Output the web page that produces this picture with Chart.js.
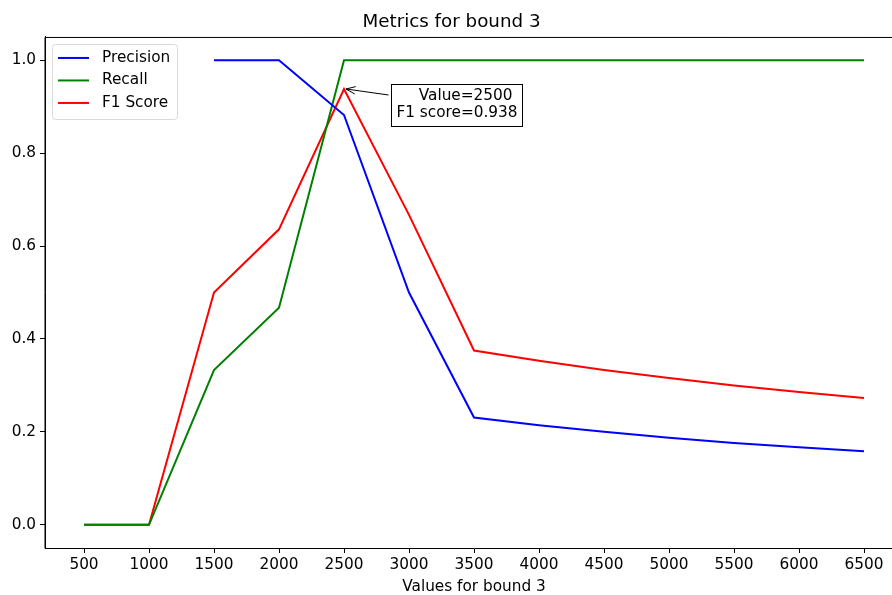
<!DOCTYPE html>
<html>
<head>
<meta charset="utf-8">
<script src="https://cdn.jsdelivr.net/npm/chart.js@4/dist/chart.umd.min.js"></script>
<style>
    body { margin: 0; background: #fff; overflow: hidden; }
    #wrap { width: 930px; height: 595px; }
</style>
</head>
<body>
<div id="wrap"><canvas id="metrics" width="930" height="595"></canvas></div>
<script>
    // values for bound 3
    var boundValues = [500, 1000, 1500, 2000, 2500, 3000, 3500, 4000, 4500, 5000, 5500, 6000, 6500];
    var precisionValues = [null, null, 1.0, 1.0, 0.882, 0.5, 0.231, 0.214, 0.2, 0.1875, 0.176, 0.167, 0.158];
    var recallValues = [0, 0, 0.333, 0.467, 1.0, 1.0, 1.0, 1.0, 1.0, 1.0, 1.0, 1.0, 1.0];
    var f1Values = [0, 0, 0.5, 0.636, 0.938, 0.667, 0.375, 0.353, 0.333, 0.316, 0.3, 0.286, 0.273];
    var yTickValues = [0, 0.2, 0.4, 0.6, 0.8, 1.0];
    var bestValue = 2500;
    var bestF1 = 0.938;

    var fontFamily = "'DejaVu Sans', sans-serif";
    var fontSize = 15.3;

    function toPoints(ys){
        var pts = [];
        for(var i = 0; i < boundValues.length; i++){
            pts.push({ x : boundValues[i], y : ys[i] });
        }
        return pts;
    }

    function makeSeries(label, color, ys){
        return {
            label: label,
            data: toPoints(ys),
            borderColor: color,
            backgroundColor: color,
            borderWidth: 2,
            pointRadius: 0,
            pointHoverRadius: 0,
            tension: 0,
            spanGaps: false,
            fill: false
        };
    }

    // legend, frame and annotation drawn by hand
    var extras = {
        id: "extras",
        afterDatasetsDraw: function(chart){
            var ctx = chart.ctx;
            var a = chart.chartArea;
            ctx.save();

            // frame
            ctx.strokeStyle = "#000";
            ctx.lineWidth = 1;
            ctx.beginPath();
            ctx.moveTo(a.left, a.bottom + 0.5);
            ctx.lineTo(a.left, a.top + 0.5);
            ctx.lineTo(a.right, a.top + 0.5);
            ctx.lineTo(a.right, a.bottom + 0.5);
            ctx.stroke();

            // legend
            var lx = a.left + 7, ly = a.top + 7, lw = 125, lh = 75;
            ctx.beginPath();
            ctx.roundRect(lx + 0.5, ly + 0.5, lw, lh, 3);
            ctx.fillStyle = "rgba(255,255,255,0.8)";
            ctx.fill();
            ctx.strokeStyle = "#d9d9d9";
            ctx.stroke();
            ctx.font = fontSize + "px " + fontFamily;
            ctx.textBaseline = "middle";
            ctx.textAlign = "left";
            chart.data.datasets.forEach(function(ds, i){
                var yy = ly + 14 + i * 22.5;
                ctx.strokeStyle = ds.borderColor;
                ctx.lineWidth = 2;
                ctx.beginPath();
                ctx.moveTo(lx + 6, yy);
                ctx.lineTo(lx + 37, yy);
                ctx.stroke();
                ctx.fillStyle = "#000";
                ctx.fillText(ds.label, lx + 50, yy);
            });

            // annotation of the best F1
            var px = chart.scales.x.getPixelForValue(bestValue);
            var py = chart.scales.y.getPixelForValue(bestF1);
            var bx = px + 47.5, by = py - 4.5, bw = 131, bh = 42;
            ctx.fillStyle = "#fff";
            ctx.fillRect(bx, by, bw, bh);
            ctx.strokeStyle = "#000";
            ctx.lineWidth = 1;
            ctx.strokeRect(bx, by, bw, bh);
            ctx.fillStyle = "#000";
            ctx.textAlign = "right";
            ctx.fillText("Value=" + bestValue, bx + 121, by + 11.5);
            ctx.fillText("F1 score=" + bestF1.toFixed(3), bx + 126, by + 29);

            var tx = bx - 3, ty = py + 6;
            var hx = px + 2, hy = py;
            ctx.beginPath();
            ctx.moveTo(tx, ty);
            ctx.lineTo(hx, hy);
            ctx.stroke();
            var ang = Math.atan2(ty - hy, tx - hx);
            ctx.beginPath();
            ctx.moveTo(hx + 10 * Math.cos(ang - 0.38), hy + 10 * Math.sin(ang - 0.38));
            ctx.lineTo(hx, hy);
            ctx.lineTo(hx + 10 * Math.cos(ang + 0.38), hy + 10 * Math.sin(ang + 0.38));
            ctx.stroke();

            ctx.restore();
        }
    };

    var chart = new Chart("metrics", {
        type: "line",
        data: {
            datasets: [
                makeSeries("Precision", "#0000ff", precisionValues),
                makeSeries("Recall", "#008000", recallValues),
                makeSeries("F1 Score", "#ff0000", f1Values)
            ]
        },
        plugins: [extras],
        options: {
            responsive: false,
            animation: false,
            devicePixelRatio: 1,
            layout: { padding: { left: 0, right: 27, top: 0, bottom: 0 } },
            plugins: {
                legend: { display: false },
                tooltip: { enabled: false },
                title: {
                    display: true,
                    text: "Metrics for bound 3",
                    color: "#000",
                    font: { family: fontFamily, size: 18.3, weight: "normal" },
                    padding: { top: 11, bottom: 4 }
                }
            },
            scales: {
                x: {
                    type: "linear",
                    min: 200,
                    max: 6800,
                    afterBuildTicks: function(scale){
                        scale.ticks = boundValues.map(function(v){ return { value: v }; });
                    },
                    afterFit: function(scale){ scale.height = 595 - 548; },
                    ticks: {
                        color: "#000",
                        padding: 3,
                        maxRotation: 0,
                        autoSkip: false,
                        font: { family: fontFamily, size: fontSize },
                        callback: function(v){ return String(v); }
                    },
                    grid: { drawOnChartArea: false, drawTicks: true, tickLength: 5, color: "#000" },
                    border: { display: true, color: "#000", width: 1 },
                    title: {
                        display: true,
                        text: "Values for bound 3",
                        color: "#000",
                        font: { family: fontFamily, size: fontSize, lineHeight: 1.0 },
                        padding: { top: 0, bottom: 0 }
                    }
                },
                y: {
                    min: -0.05,
                    max: 1.05,
                    afterBuildTicks: function(scale){
                        scale.ticks = yTickValues.map(function(v){ return { value: v }; });
                    },
                    afterFit: function(scale){ scale.width = 45; },
                    ticks: {
                        color: "#000",
                        padding: 4,
                        font: { family: fontFamily, size: fontSize },
                        callback: function(v){ return v.toFixed(1); }
                    },
                    grid: { drawOnChartArea: false, drawTicks: true, tickLength: 5, color: "#000" },
                    border: { display: true, color: "#000", width: 1 }
                }
            }
        }
    });
</script>
</body>
</html>
